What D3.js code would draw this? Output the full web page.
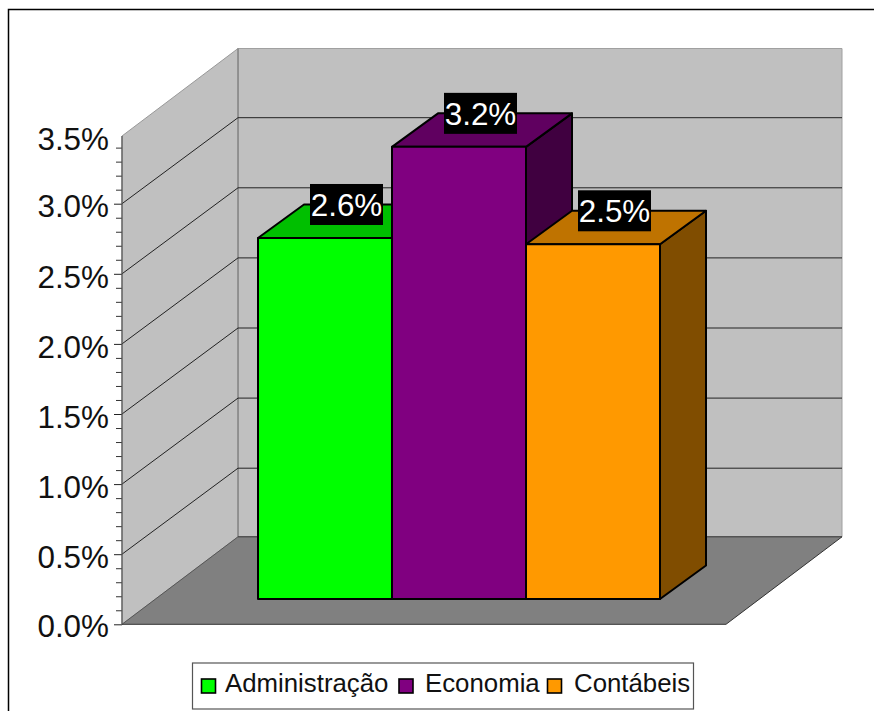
<!DOCTYPE html>
<html>
<head>
<meta charset="utf-8">
<script src="https://cdn.jsdelivr.net/npm/d3@7/dist/d3.min.js"></script>
<style>
html,body{margin:0;padding:0;background:#fff;overflow:hidden}
svg{display:block}
text{font-family:"Liberation Sans",Arial,sans-serif}
</style>
</head>
<body>
<svg id="chart" width="874" height="711"></svg>
<script>
const categories = ["Administração", "Economia", "Contábeis"];
const values = [2.575, 3.225, 2.53];
const frontColors = ["#00ff00", "#800080", "#ff9900"];
const topColors = ["#00bf00", "#600060", "#bf7300"];
const sideColors = ["#008000", "#400040", "#804d00"];
const majorTicks = [0, 0.5, 1, 1.5, 2, 2.5, 3, 3.5];
const minorTicks = [0.1,0.2,0.3,0.4,0.6,0.7,0.8,0.9,1.1,1.2,1.3,1.4,1.6,1.7,1.8,1.9,2.1,2.2,2.3,2.4,2.6,2.7,2.8,2.9,3.1,3.2,3.3,3.4];

const svg = d3.select("#chart");
const y = d3.scaleLinear().domain([0, 3.5]).range([624.3, 133.6]);
const x = d3.scaleBand().domain(categories).range([258, 660]).padding(0);
const barBase = 25.3, barDx = 46, barDy = 33.5;
const wallDx = 116, wallDy = 87.5, gridDy = 86;
const axisX = 122, wallTopY = 136;
const poly = pts => pts.map(p => p.join(",")).join(" ");

// frame
svg.append("path").attr("d", "M8.5,711V9.5H874").attr("fill", "none").attr("stroke", "#000").attr("stroke-width", 1.5);

// walls and floor
const y0 = y(0);
svg.append("polygon").attr("points", poly([[axisX + wallDx, wallTopY - wallDy], [842, wallTopY - wallDy], [842, y0 - wallDy], [axisX + wallDx, y0 - wallDy]]))
  .attr("fill", "#c0c0c0").attr("stroke", "#a0a0a0").attr("stroke-width", 1);
svg.append("polygon").attr("points", poly([[axisX, wallTopY], [axisX + wallDx, wallTopY - wallDy], [axisX + wallDx, y0 - wallDy], [axisX, y0]]))
  .attr("fill", "#c0c0c0").attr("stroke", "#999").attr("stroke-width", 1);
svg.append("line").attr("x1", axisX + wallDx).attr("x2", axisX + wallDx).attr("y1", wallTopY - wallDy).attr("y2", y0 - wallDy).attr("stroke", "#808080").attr("stroke-width", 1.2);
svg.append("polygon").attr("points", poly([[axisX, y0], [axisX + wallDx, y0 - wallDy], [842, y0 - wallDy], [842 - wallDx, y0]]))
  .attr("fill", "#808080");
svg.append("path").attr("d", `M${axisX},${y0}L${axisX + wallDx},${y0 - wallDy}`).attr("stroke", "#555").attr("fill", "none");
svg.append("path").attr("d", `M${axisX + wallDx},${y0 - wallDy}H842L${842 - wallDx},${y0}H${axisX}`).attr("stroke", "#333").attr("fill", "none").attr("stroke-width", 1);

// grid lines
const gridVals = majorTicks.filter(v => v > 0 && v < 3.5);
svg.append("g").selectAll("path").data(gridVals).join("path")
  .attr("d", v => `M${axisX},${y(v)}L${axisX + wallDx},${y(v) - gridDy}H842`)
  .attr("fill", "none").attr("stroke", "#222").attr("stroke-width", 1);

// axes
const minor = svg.append("g").attr("transform", `translate(${axisX},0)`)
  .call(d3.axisLeft(y).tickValues(minorTicks).tickSize(6).tickFormat(""));
minor.select(".domain").remove();
minor.selectAll("line").attr("stroke", "#333");
const major = svg.append("g").attr("transform", `translate(${axisX},0)`)
  .call(d3.axisLeft(y).tickValues(majorTicks).tickSize(8).tickPadding(5).tickFormat(v => v.toFixed(1) + "%"));
major.select(".domain").remove();
major.selectAll("line").attr("stroke", "#222").filter(v => v === 3.5).remove();
major.selectAll("text").attr("font-size", 31.4).attr("font-family", '"Liberation Sans"').attr("fill", "#111")
  .attr("dy", v => v === 3.5 ? "0.5em" : v === 0 ? "0.39em" : "0.42em");
svg.append("line").attr("x1", axisX).attr("x2", axisX).attr("y1", wallTopY).attr("y2", y0).attr("stroke", "#555").attr("stroke-width", 1.2);

// bars
const bars = svg.append("g").selectAll("g").data(categories).join("g");
const base = y0 - barBase;
const barTop = i => y(values[i]) - barBase;
const stroke = sel => sel.attr("stroke", "#000").attr("stroke-width", 2).attr("stroke-linejoin", "round");
bars.append("polygon").attr("points", (c, i) => {
  const r = x(c) + x.bandwidth();
  return poly([[r, barTop(i)], [r + barDx, barTop(i) - barDy], [r + barDx, base - barDy], [r, base]]);
}).attr("fill", (c, i) => sideColors[i]).call(stroke);
bars.append("polygon").attr("points", (c, i) => {
  const l = x(c), r = l + x.bandwidth();
  return poly([[l, barTop(i)], [l + barDx, barTop(i) - barDy], [r + barDx, barTop(i) - barDy], [r, barTop(i)]]);
}).attr("fill", (c, i) => topColors[i]).call(stroke);
bars.append("rect").attr("x", c => x(c)).attr("y", (c, i) => barTop(i))
  .attr("width", x.bandwidth()).attr("height", (c, i) => base - barTop(i))
  .attr("fill", (c, i) => frontColors[i]).call(stroke);

// value labels
const labels = svg.append("g").selectAll("g").data(categories).join("g")
  .attr("transform", (c, i) => `translate(${x(c) + x.bandwidth() / 2 + 21.5},${barTop(i) - barDy})`);
labels.append("rect").attr("x", -36.5).attr("y", -20.5).attr("width", 73).attr("height", 41).attr("fill", "#000");
labels.append("text").attr("text-anchor", "middle").attr("dy", "0.36em").attr("font-size", 31.4).attr("fill", "#fff")
  .text((c, i) => values[i].toFixed(1) + "%");

// legend
const legend = svg.append("g");
legend.append("rect").attr("x", 192.5).attr("y", 663).attr("width", 501).attr("height", 46)
  .attr("fill", "#fff").attr("stroke", "#555").attr("stroke-width", 1.2);
const swatchX = [201.5, 399, 547.5];
const textX = [225, 425, 574];
const items = legend.selectAll("g").data(categories).join("g");
items.append("rect").attr("x", (c, i) => swatchX[i]).attr("y", 679).attr("width", 14).attr("height", 14)
  .attr("fill", (c, i) => frontColors[i]).attr("stroke", "#000").attr("stroke-width", 1.6);
items.append("text").attr("x", (c, i) => textX[i]).attr("y", 692).attr("font-size", 25.8).attr("fill", "#111").text(c => c);
</script>
</body>
</html>
